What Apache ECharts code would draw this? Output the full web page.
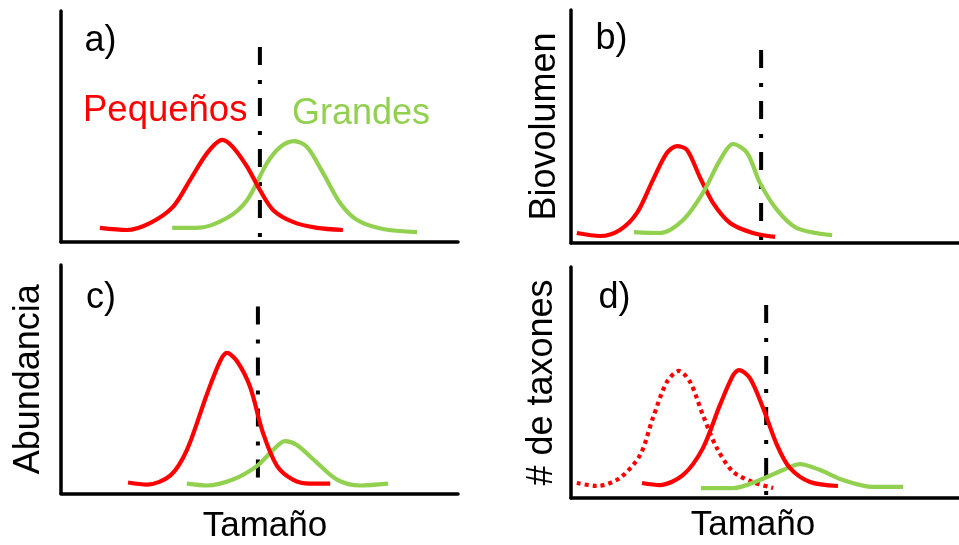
<!DOCTYPE html>
<html><head><meta charset="utf-8">
<script src="https://cdn.jsdelivr.net/npm/echarts@6/dist/echarts.min.js"></script>
<style>html,body{margin:0;padding:0;background:#fff}#c{width:959px;height:545px}</style>
</head><body><div id="c"></div>
<script>
// Panel a (Tamaño 0-100, relative value 0-100)
const aPequenos = [[9.8,6.1],[16.6,5.2],[22.4,8.2],[28.2,15.2],[32.5,26.8],[36.8,38.5],[40.6,44.2],[43.3,41.1],[46.9,32.5],[50.1,22.5],[53.4,13.9],[58.4,8.7],[64.5,6.1],[71.0,5.2]];
const aGrandes = [[28.0,6.1],[34.3,6.1],[41.8,10.4],[46.9,18.2],[51.9,34.2],[55.2,41.1],[58.7,43.7],[62.0,41.1],[66.0,29.9],[70.3,16.9],[74.6,9.5],[81.1,5.6],[89.7,4.3]];
const aCorte = [[50.1,84.4],[50.1,1.7]];
// Panel b: Biovolumen
const bPequenos = [[1.5,4.3],[7.5,3.0],[12.6,5.6],[17.0,12.9],[21.1,27.0],[24.7,38.6],[27.3,41.6],[29.9,39.9],[33.2,28.3],[36.6,17.2],[41.0,8.6],[46.9,4.3],[52.6,2.6]];
const bGrandes = [[16.2,4.7],[22.9,4.3],[28.9,9.9],[34.0,21.5],[38.4,35.6],[41.8,42.5],[45.4,38.6],[48.7,25.8],[53.1,14.2],[58.2,6.4],[67.3,3.4]];
const bCorte = [[49.0,82.8],[49.0,1.3]];
// Panel c: Abundancia
const cPequenos = [[16.9,4.8],[21.7,3.9],[27.5,7.8],[31.7,19.0],[36.8,43.7],[40.1,58.0],[41.8,61.5],[44.3,58.0],[47.6,46.8],[50.9,26.4],[54.4,12.1],[58.4,6.1],[62.7,4.3],[67.8,4.3]];
const cGrandes = [[31.7,4.3],[36.8,3.5],[43.3,6.1],[49.4,12.1],[53.4,19.0],[56.4,22.9],[59.4,21.2],[64.5,13.4],[69.5,6.1],[75.3,3.5],[82.4,4.3]];
const cCorte = [[49.6,81.8],[49.6,0.4]];
// Panel d: # de taxones
const dPequenosPrevio = [[1.5,6.5],[6.7,5.2],[12.6,8.7],[17.8,18.6],[21.1,34.6],[24.7,50.2],[27.8,55.0],[30.7,50.2],[34.0,35.9],[37.6,21.6],[41.8,11.3],[46.9,6.9],[52.1,4.3]];
const dPequenos = [[18.3,6.5],[22.9,5.6],[28.9,10.0],[34.0,21.6],[38.4,40.3],[41.8,53.2],[43.3,55.4],[46.1,51.9],[49.5,39.0],[53.1,22.9],[56.4,13.0],[61.6,6.9],[68.8,5.2]];
const dGrandes = [[33.5,4.3],[41.8,4.3],[48.7,7.8],[54.6,12.1],[59.0,14.7],[64.2,12.1],[70.1,7.8],[77.8,4.8],[85.6,4.8]];
const dCorte = [[50.3,83.5],[50.3,0.4]];

const panelLabels = ['a)', 'b)', 'c)', 'd)'];
const yNames = ['', 'Biovolumen', 'Abundancia', '# de taxones'];
const xNames = ['', '', 'Tamaño', 'Tamaño'];
const groupNames = ['Pequeños', 'Grandes'];

const RED = '#FF0000', GREEN = '#92D050', FONT = 'Liberation Sans, Arial, sans-serif';
const grids = [
  {left: 61, top: 11, width: 397, height: 231},
  {left: 571, top: 10, width: 388, height: 233},
  {left: 61, top: 265, width: 397, height: 231},
  {left: 571, top: 267, width: 388, height: 231}
];
const yGaps = [0, 7.5, 13.5, 10.5];
const xGaps = [0, 0, 15.5, 9.5];
const xPads = [[0,0,0,0],[0,0,0,0],[0,0,0,11],[0,24,0,0]];

const xAxes = grids.map((g, i) => ({
  gridIndex: i, type: 'value', min: 0, max: 100,
  name: xNames[i], nameLocation: 'middle', nameGap: xGaps[i],
  nameTextStyle: {fontSize: 35, color: '#000', fontFamily: FONT, padding: xPads[i]},
  axisLine: {show: true, onZero: false, lineStyle: {color: '#000', width: 3.5}},
  axisTick: {show: false}, axisLabel: {show: false}, splitLine: {show: false}
}));
const yAxes = grids.map((g, i) => ({
  gridIndex: i, type: 'value', min: 0, max: 100,
  name: yNames[i], nameLocation: 'middle', nameGap: yGaps[i], nameRotate: 90,
  nameTextStyle: {fontSize: 36, color: '#000', fontFamily: FONT},
  axisLine: {show: true, onZero: false, lineStyle: {color: '#000', width: 3.5}},
  axisTick: {show: false}, axisLabel: {show: false}, splitLine: {show: false}
}));

function curve(i, data, color, type) {
  return {type: 'line', xAxisIndex: i, yAxisIndex: i, data: data, smooth: 0.3,
    symbol: 'none', silent: true,
    lineStyle: {color: color, width: 4.2, type: type || 'solid', cap: 'butt', join: 'round'}};
}
function cut(i, data) {
  return {type: 'line', xAxisIndex: i, yAxisIndex: i, data: data, symbol: 'none', silent: true,
    lineStyle: {color: '#000', width: 4, type: [18, 15, 4, 14], cap: 'butt'}, z: 3};
}
const series = [
  cut(0, aCorte), curve(0, aGrandes, GREEN), curve(0, aPequenos, RED),
  cut(1, bCorte), curve(1, bPequenos, RED), curve(1, bGrandes, GREEN),
  cut(2, cCorte), curve(2, cGrandes, GREEN), curve(2, cPequenos, RED),
  cut(3, dCorte), curve(3, dPequenosPrevio, RED, [4, 4]), curve(3, dGrandes, GREEN), curve(3, dPequenos, RED)
];

const labelPos = [[84.5, 41.5], [595.5, 39.5], [86, 298.5], [598.5, 298.5]];
const graphic = panelLabels.map((t, i) => ({
  type: 'text', x: labelPos[i][0], y: labelPos[i][1],
  style: {text: t, fontSize: 36, fontFamily: FONT, fill: '#000', verticalAlign: 'middle', align: 'left'}
}));
graphic.push({type: 'text', x: 83, y: 110.5,
  style: {text: groupNames[0], fontSize: 36.5, fontFamily: FONT, fill: RED, verticalAlign: 'middle', align: 'left'}});
graphic.push({type: 'text', x: 292, y: 114.5,
  style: {text: groupNames[1], fontSize: 36, fontFamily: FONT, fill: GREEN, verticalAlign: 'middle', align: 'left'}});

const chart = echarts.init(document.getElementById('c'), null, {renderer: 'canvas'});
chart.setOption({
  animation: false, backgroundColor: '#fff',
  grid: grids, xAxis: xAxes, yAxis: yAxes, series: series, graphic: graphic
});
</script></body></html>
